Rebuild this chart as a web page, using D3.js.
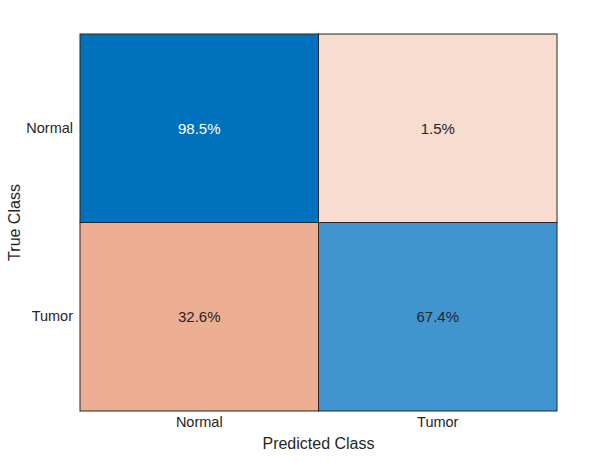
<!DOCTYPE html>
<html><head><meta charset="utf-8">
<script src="https://cdn.jsdelivr.net/npm/d3@7"></script>
<style>body{margin:0;background:#fff;} text{font-family:"Liberation Sans",Arial,Helvetica,sans-serif;}</style>
</head><body>
<svg id="c" width="616" height="462"></svg>
<script>
const trueClasses = ["Normal", "Tumor"];
const predClasses = ["Normal", "Tumor"];
// row-normalized percentages: rows = true class, cols = predicted class
const rowNormal = [98.5, 1.5];
const rowTumor = [32.6, 67.4];
const values = [rowNormal, rowTumor];

const margin = {left: 80, top: 34, right: 59, bottom: 51};
const W = 616, H = 462;
const svg = d3.select("#c");
const x = d3.scaleBand().domain(predClasses).range([margin.left, W - margin.right]);
const y = d3.scaleBand().domain(trueClasses).range([margin.top, H - margin.bottom]);

const diagColor = d3.scaleLinear().domain([0, 67.4, 98.5]).range(["#ffffff", "#4095ce", "#0072bd"]);
const offColor = d3.scaleLinear().domain([0, 1.5, 32.6]).range(["#ffffff", "#f7dccf", "#ecaf93"]);

const cells = [];
trueClasses.forEach((t, i) => predClasses.forEach((p, j) => cells.push({t, p, v: values[i][j], diag: i === j})));

const g = svg.append("g");
g.selectAll("rect").data(cells).join("rect")
  .attr("x", d => x(d.p)).attr("y", d => y(d.t))
  .attr("width", x.bandwidth()).attr("height", y.bandwidth())
  .attr("fill", d => d.diag ? diagColor(d.v) : offColor(d.v))
  .attr("stroke", "#262626").attr("stroke-width", 1);

g.selectAll("text.v").data(cells).join("text").attr("class", "v")
  .attr("x", d => x(d.p) + x.bandwidth() / 2)
  .attr("y", d => y(d.t) + y.bandwidth() / 2)
  .attr("text-anchor", "middle").attr("dominant-baseline", "central")
  .attr("font-size", 15)
  .attr("fill", d => d.v > 80 ? "#ffffff" : "#262626")
  .text(d => d.v.toFixed(1) + "%");

const xAxis = svg.append("g").attr("transform", `translate(0,${H - margin.bottom})`)
  .call(d3.axisBottom(x).tickSize(0).tickPadding(6));
const yAxis = svg.append("g").attr("transform", `translate(${margin.left},0)`)
  .call(d3.axisLeft(y).tickSize(0).tickPadding(7));
[xAxis, yAxis].forEach(a => {
  a.select(".domain").remove();
  a.selectAll("text").attr("font-size", 14.5).attr("fill", "#262626")
    .style("font-family", '"Liberation Sans",Arial,sans-serif');
});

svg.append("text").attr("x", (margin.left + W - margin.right) / 2).attr("y", 449)
  .attr("text-anchor", "middle").attr("font-size", 16).attr("fill", "#262626").text("Predicted Class");
svg.append("text").attr("transform", `translate(20,${(margin.top + H - margin.bottom) / 2}) rotate(-90)`)
  .attr("text-anchor", "middle").attr("font-size", 16).attr("fill", "#262626").text("True Class");
</script>
</body></html>
